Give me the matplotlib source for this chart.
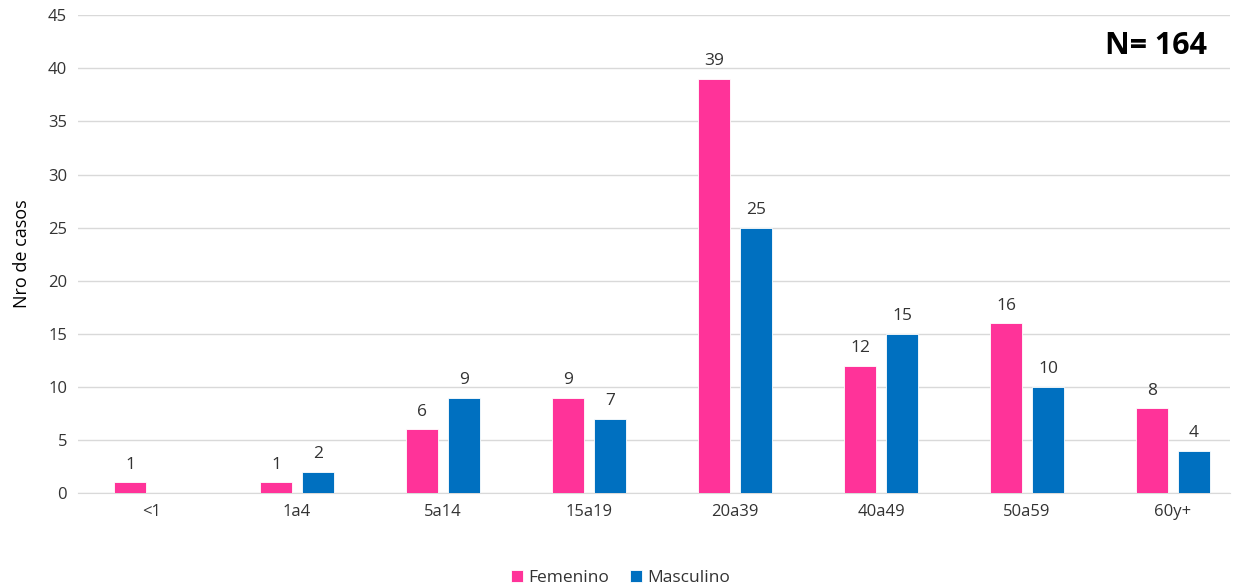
import numpy as np
import matplotlib
matplotlib.use("Agg")
import matplotlib.pyplot as plt

plt.rcParams['font.family'] = ['Open Sans', 'DejaVu Sans']

grupos = ['<1', '1a4', '5a14', '15a19', '20a39', '40a49', '50a59', '60y+']
femenino = [1, 1, 6, 9, 39, 12, 16, 8]
masculino = [0, 2, 9, 7, 25, 15, 10, 4]

color_f = '#FF3399'
color_m = '#0070C0'

fig = plt.figure(figsize=(12.41, 5.87), dpi=100)
ax = fig.add_axes([0.063, 0.160, 0.928, 0.814])

x = np.arange(len(grupos))
w = 0.219
off = 0.144
bf = ax.bar(x - off, femenino, w, color=color_f, edgecolor='#ffffff', linewidth=0.6, label='Femenino', zorder=3)
bm = ax.bar(x + off, masculino, w, color=color_m, edgecolor='#ffffff', linewidth=0.6, label='Masculino', zorder=3)

# etiquetas de valores (sin etiqueta para las barras en cero)
for xi, v in zip(x, femenino):
    if v > 0:
        ax.text(xi - off, v + 0.9, str(v), ha='center', va='bottom', fontsize=12.5, color='#333333')
for xi, v in zip(x, masculino):
    if v > 0:
        ax.text(xi + off, v + 0.9, str(v), ha='center', va='bottom', fontsize=12.5, color='#333333')

ax.set_xlim(-0.5, 7.39)
ax.set_ylim(0, 45)
ax.set_yticks(range(0, 46, 5))
ax.set_xticks(x)
ax.set_xticklabels(grupos)
ax.tick_params(axis='both', length=0, labelsize=12, colors='#333333', pad=8)
ax.grid(axis='y', color='#d9d9d9', linewidth=1, zorder=0)
for s in ['top', 'right', 'left']:
    ax.spines[s].set_visible(False)
ax.spines['bottom'].set_color('#d9d9d9')
ax.set_ylabel('Nro de casos', fontsize=13, color='#000000', labelpad=12)

ax.text(0.98, 0.935, 'N= 164', transform=ax.transAxes, ha='right', va='center',
        fontsize=22, fontweight='bold', color='#000000')

fig.legend(handles=[bf, bm], loc='lower center', bbox_to_anchor=(0.5, -0.025), ncol=2,
           frameon=False, fontsize=12.5, handlelength=0.7, handleheight=0.7,
           handletextpad=0.3, columnspacing=1.2, labelcolor='#333333')

fig.savefig('out.png', dpi=100)
